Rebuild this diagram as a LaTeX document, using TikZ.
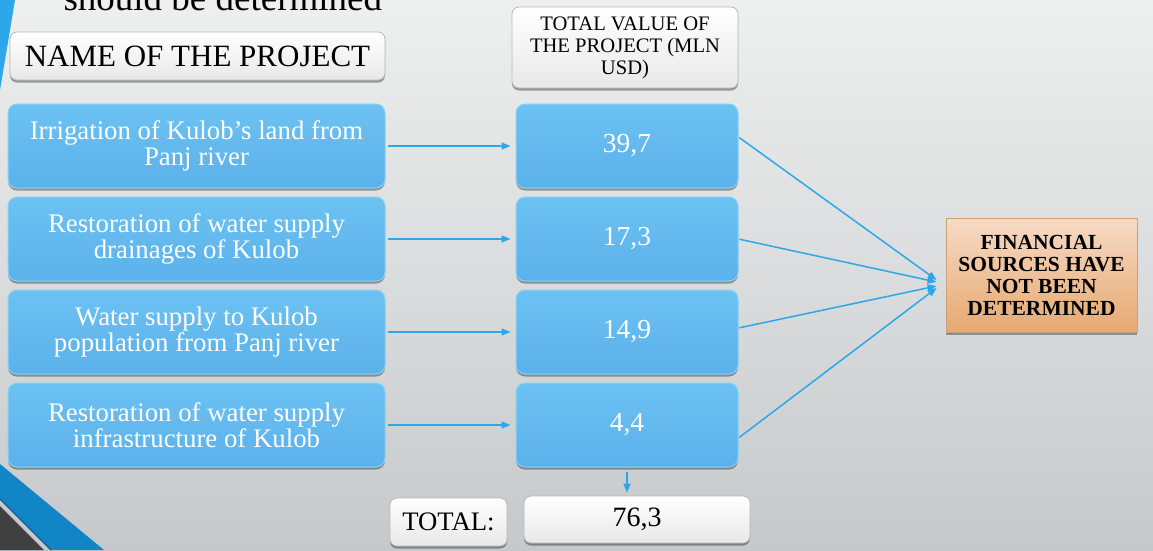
\documentclass[tikz,border=0pt]{standalone}
\usepackage{fontspec}
\setmainfont{Liberation Serif}
\usetikzlibrary{positioning,arrows.meta,shadows}
\definecolor{bgtop}{HTML}{EEEFEF}
\definecolor{bgbot}{HTML}{C6C9CB}
\definecolor{boxtop}{HTML}{6CC2F2}
\definecolor{boxbot}{HTML}{5BB1EA}
\definecolor{boxedge}{HTML}{86D3F4}
\definecolor{linkblue}{HTML}{2DA7EA}
\definecolor{wedgeblue}{HTML}{1185C5}
\definecolor{wedgelight}{HTML}{2CA7E7}
\definecolor{wedgeline}{HTML}{0B5E8F}
\definecolor{wedgedark}{HTML}{404040}
\definecolor{fintop}{HTML}{F7DAC6}
\definecolor{finbot}{HTML}{E6A970}
\definecolor{finedge}{HTML}{C9A07C}
\begin{document}
\begin{tikzpicture}[x=1pt, y=-1pt, node distance=8pt]
  \tikzstyle{boxshadow}=[drop shadow={shadow xshift=0pt, shadow yshift=-2.5pt, opacity=.35, fill=black}]
  \tikzstyle{projbox}=[rounded corners=9pt, top color=boxtop, bottom color=boxbot, draw=boxedge,
                       line width=1pt, boxshadow, text=white, align=center, inner sep=0pt,
                       minimum width=377pt, minimum height=84pt,
                       font={\fontsize{26.8}{26}\selectfont\lineskiplimit=-20pt}]
  \tikzstyle{valbox}=[projbox, minimum width=222pt, font=\fontsize{27.5}{30}\selectfont]
  \tikzstyle{headbox}=[rounded corners=7pt, top color=white, bottom color=black!9, draw=black!28,
                       line width=.8pt, boxshadow, align=center, inner sep=0pt]
  \tikzstyle{finbox}=[top color=fintop, bottom color=finbot, draw=finedge, line width=.8pt, boxshadow,
                      align=center, inner sep=0pt, minimum width=191pt, minimum height=114pt,
                      font={\fontsize{21.5}{22}\selectfont\bfseries\lineskiplimit=-20pt}]
  \tikzstyle{link}=[draw=linkblue, line width=1.5pt, -{Triangle[length=9pt,width=7pt]}]
  \useasboundingbox (0,0) rectangle (1153,550);
  \shade[top color=bgtop, bottom color=bgbot] (0,0) rectangle (1153,550);
  % corner wedges
  \fill[wedgelight] (0,0) -- (15,0) -- (0,90) -- cycle;
  \fill[wedgeblue] (0,464) -- (104,550) -- (0,550) -- cycle;
  \fill[bgbot] (0,499) -- (51,550) -- (0,550) -- cycle;
  \draw[wedgeline, line width=1.2pt] (0,499) -- (51,550);
  \fill[wedgedark] (0,506) -- (44,550) -- (0,550) -- cycle;

  \node[anchor=base west, font=\fontsize{37}{40}\selectfont] (title) at (60,10) {should be determined};
  \node[headbox, minimum width=375pt, minimum height=48pt, font=\fontsize{31}{34}\selectfont]
       (name) at (197.5,56) {NAME OF THE PROJECT};
  \node[headbox, minimum width=226pt, minimum height=81pt,
        font={\fontsize{20.6}{22}\selectfont\lineskiplimit=-20pt}]
       (head) at (625,47.5) {TOTAL VALUE OF\\THE PROJECT (MLN\\USD)};

  \node[projbox] (p1) at (196.5,146) {Irrigation of Kulob’s land from\\Panj river};
  \node[projbox, below=of p1] (p2) {Restoration of water supply\\drainages of Kulob};
  \node[projbox, below=of p2] (p3) {Water supply to Kulob\\population from Panj river};
  \node[projbox, below=of p3] (p4) {Restoration of water supply\\infrastructure of Kulob};

  \node[valbox, right=130pt of p1] (v1) {39,7};
  \node[valbox, right=130pt of p2] (v2) {17,3};
  \node[valbox, right=130pt of p3] (v3) {14,9};
  \node[valbox, right=130pt of p4] (v4) {4,4};

  \node[finbox] (fin) at (1041.5,275) {FINANCIAL\\SOURCES HAVE\\NOT BEEN\\DETERMINED};

  \node[headbox, minimum width=117pt, minimum height=48pt, font=\fontsize{26.7}{30}\selectfont]
       (totlabel) at (448.5,522) {TOTAL:};
  \node[headbox, minimum width=226pt, minimum height=47pt, font=\fontsize{28}{30}\selectfont]
       (totval) at (637,519.5) {76,3};

  \foreach \i in {1,...,4}
    \draw[link, shorten <=2pt, shorten >=5pt] (p\i) -- (v\i);
  \foreach \i/\s/\t in {1/9/-5, 2/0/-7, 3/4/-11, 4/-13/-13}
    \draw[link, shorten <=1pt] ([yshift=\s pt]v\i.east) -- ([xshift=-9pt, yshift=\t pt]fin.west);
  \draw[link, shorten >=3pt] ([yshift=-4pt]v4.south) -- (v4.south |- totval.north);
\end{tikzpicture}
\end{document}
